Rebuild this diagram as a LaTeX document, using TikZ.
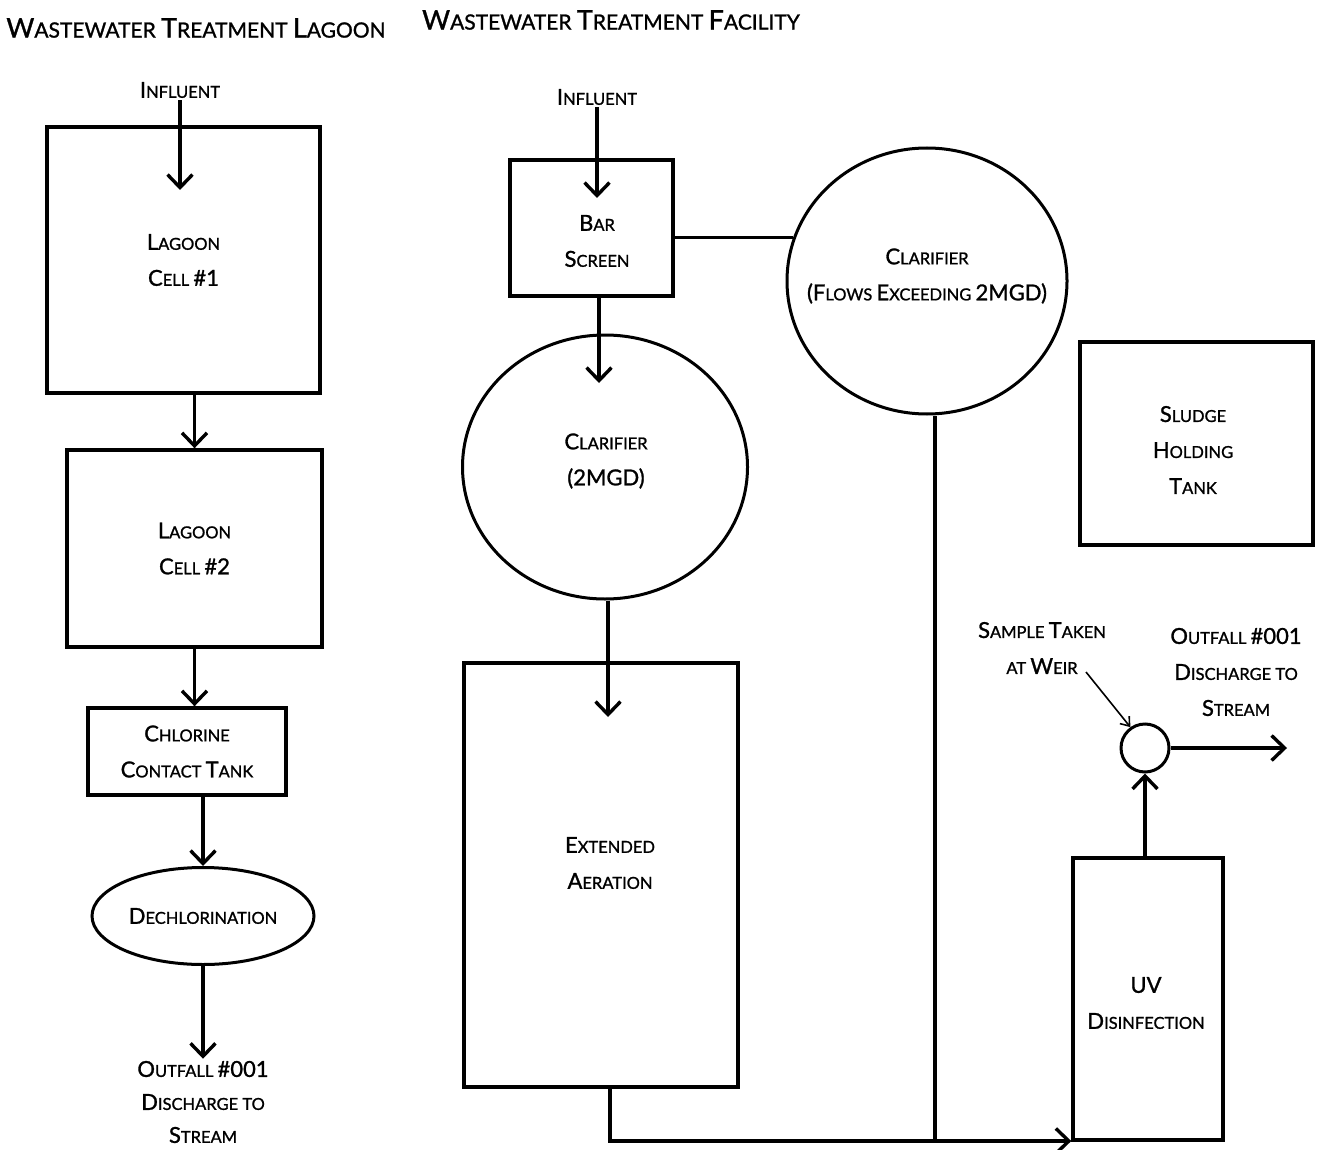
\documentclass[tikz,border=0pt]{standalone}
\usepackage{fontspec}
\setmainfont{Lato}[FakeBold=1.2]
\usetikzlibrary{arrows.meta,shapes.geometric}
\newcommand\bg[1]{{\fontsize{22}{36}\selectfont #1}}
\newcommand\tbg[1]{{\fontsize{27}{30}\selectfont #1}}

\begin{document}
\begin{tikzpicture}
    [%%%%%%%%%%%%%%%%%%%%%%%%%%%%%%
        x=1pt, y=-1pt,
        every node/.style={font=\fontsize{16.5}{36}\selectfont, align=center, inner sep=2pt},
        title/.style={font=\fontsize{21}{26}\selectfont},
        box/.style={rectangle,draw=black,line width=3.4pt},
        tank/.style={ellipse,draw=black,line width=3pt},
        pipe/.style={line width=3.4pt},
        flow/.style={pipe,-{Straight Barb[length=13pt,width=25pt]}},
        pointer/.style={line width=1.6pt,-{Straight Barb[length=8pt,width=12pt]}},
    ]%%%%%%%%%%%%%%%%%%%%%%%%%%%%%%
\useasboundingbox (0,0) rectangle (1324,1150);

% lagoon side
\node[title] (title1) at (196,28) {\tbg{W}ASTEWATER \tbg{T}REATMENT \tbg{L}AGOON};
\node (inf1) at (180,90) {\bg{I}NFLUENT};
\node[box, minimum width=273pt, minimum height=266pt] (lag1) at (183.5,260) {\bg{L}AGOON\\\bg{C}ELL \bg{\#1}};
\node[box, minimum width=255pt, minimum height=197pt] (lag2) at (194.5,548.5) {\bg{L}AGOON\\\bg{C}ELL \bg{\#2}};
\node[box, minimum width=198pt, minimum height=87pt] (chlor) at (187,751.5) {\bg{C}HLORINE\\\bg{C}ONTACT \bg{T}ANK};
\node[tank, minimum width=222pt, minimum height=97pt] (dechlor) at (203,916) {};
\node (dechlortxt) at (203,916) {\bg{D}ECHLORINATION};
\node[font=\fontsize{16.5}{33}\selectfont] (out1) at (203,1102) {\bg{O}UTFALL \bg{\#001}\\\bg{D}ISCHARGE TO\\\bg{S}TREAM};

\coordinate (lag1in) at (180,190);
\draw[flow] (inf1) -- (lag1in);
\draw[flow] (lag2.north |- lag1.south) -- (lag2.north);
\draw[flow] (lag2.south) -- (lag2.south |- chlor.north);
\draw[flow] (dechlor.north |- chlor.south) -- (dechlor.north);
\draw[flow] (dechlor.south) -- (out1.north);

% facility side
\node[title] (title2) at (611,20) {\tbg{W}ASTEWATER \tbg{T}REATMENT \tbg{F}ACILITY};
\node (inf2) at (597,97) {\bg{I}NFLUENT};
\node[box, minimum width=163pt, minimum height=136pt] (bar) at (591.5,228) {};
\node (bartxt) at (597,241) {\bg{B}AR\\\bg{S}CREEN};
\node[tank, minimum width=280pt, minimum height=266pt] (clar1) at (927,281) {};
\node (clar1txt) at (927,276) {\bg{C}LARIFIER\\\bg{(F}LOWS \bg{E}XCEEDING \bg{2MGD)}};
\node[tank, minimum width=285pt, minimum height=264pt] (clar2) at (605,467) {};
\node (clar2txt) at (606,461) {\bg{C}LARIFIER\\\bg{(2MGD)}};
\node[box, minimum width=274pt, minimum height=424pt] (aer) at (601,875) {};
\node (aertxt) at (610,863) {\bg{E}XTENDED\\\bg{A}ERATION};
\node[box, minimum width=233pt, minimum height=203pt] (sludge) at (1196.5,443.5) {};
\node (sludgetxt) at (1193,450) {\bg{S}LUDGE\\\bg{H}OLDING\\\bg{T}ANK};
\node[box, minimum width=150pt, minimum height=282pt] (uv) at (1148,999) {};
\node (uvtxt) at (1146,1003) {\bg{UV}\\\bg{D}ISINFECTION};
\node[circle, draw=black, line width=3pt, minimum size=48pt, inner sep=0pt] (weir) at (1145,748) {};
\node (sample) at (1042,648) {\bg{S}AMPLE \bg{T}AKEN\\AT \bg{W}EIR};
\node (out2) at (1236,672) {\bg{O}UTFALL \bg{\#001}\\\bg{D}ISCHARGE TO\\\bg{S}TREAM};

\coordinate (barin) at (597,198);
\coordinate (clar2in) at (599,383);
\coordinate (aerin) at (608,717);
\coordinate (drop) at (935,1141);
\coordinate (joint) at (610,1141);
\coordinate (samplefrom) at (1086,672);
\coordinate (out2end) at (1287,748);

\draw[flow] (inf2) -- (barin);
\draw[pipe] (clar1.162) -- (clar1.162 -| bar.east);
\draw[flow] (bar.south -| clar2in) -- (clar2in);
\draw[flow] (clar2.south -| aerin) -- (aerin);
\draw[pipe] (clar1.south -| drop) -- (drop);
\draw[flow] (aer.south -| joint) -- (joint) -- (joint -| uv.west);
\draw[flow] (uv.north -| weir) -- (weir.south);
\draw[flow] (weir.east) -- (out2end);
\draw[pointer] (samplefrom) -- (weir.125);
\end{tikzpicture}
\end{document}
